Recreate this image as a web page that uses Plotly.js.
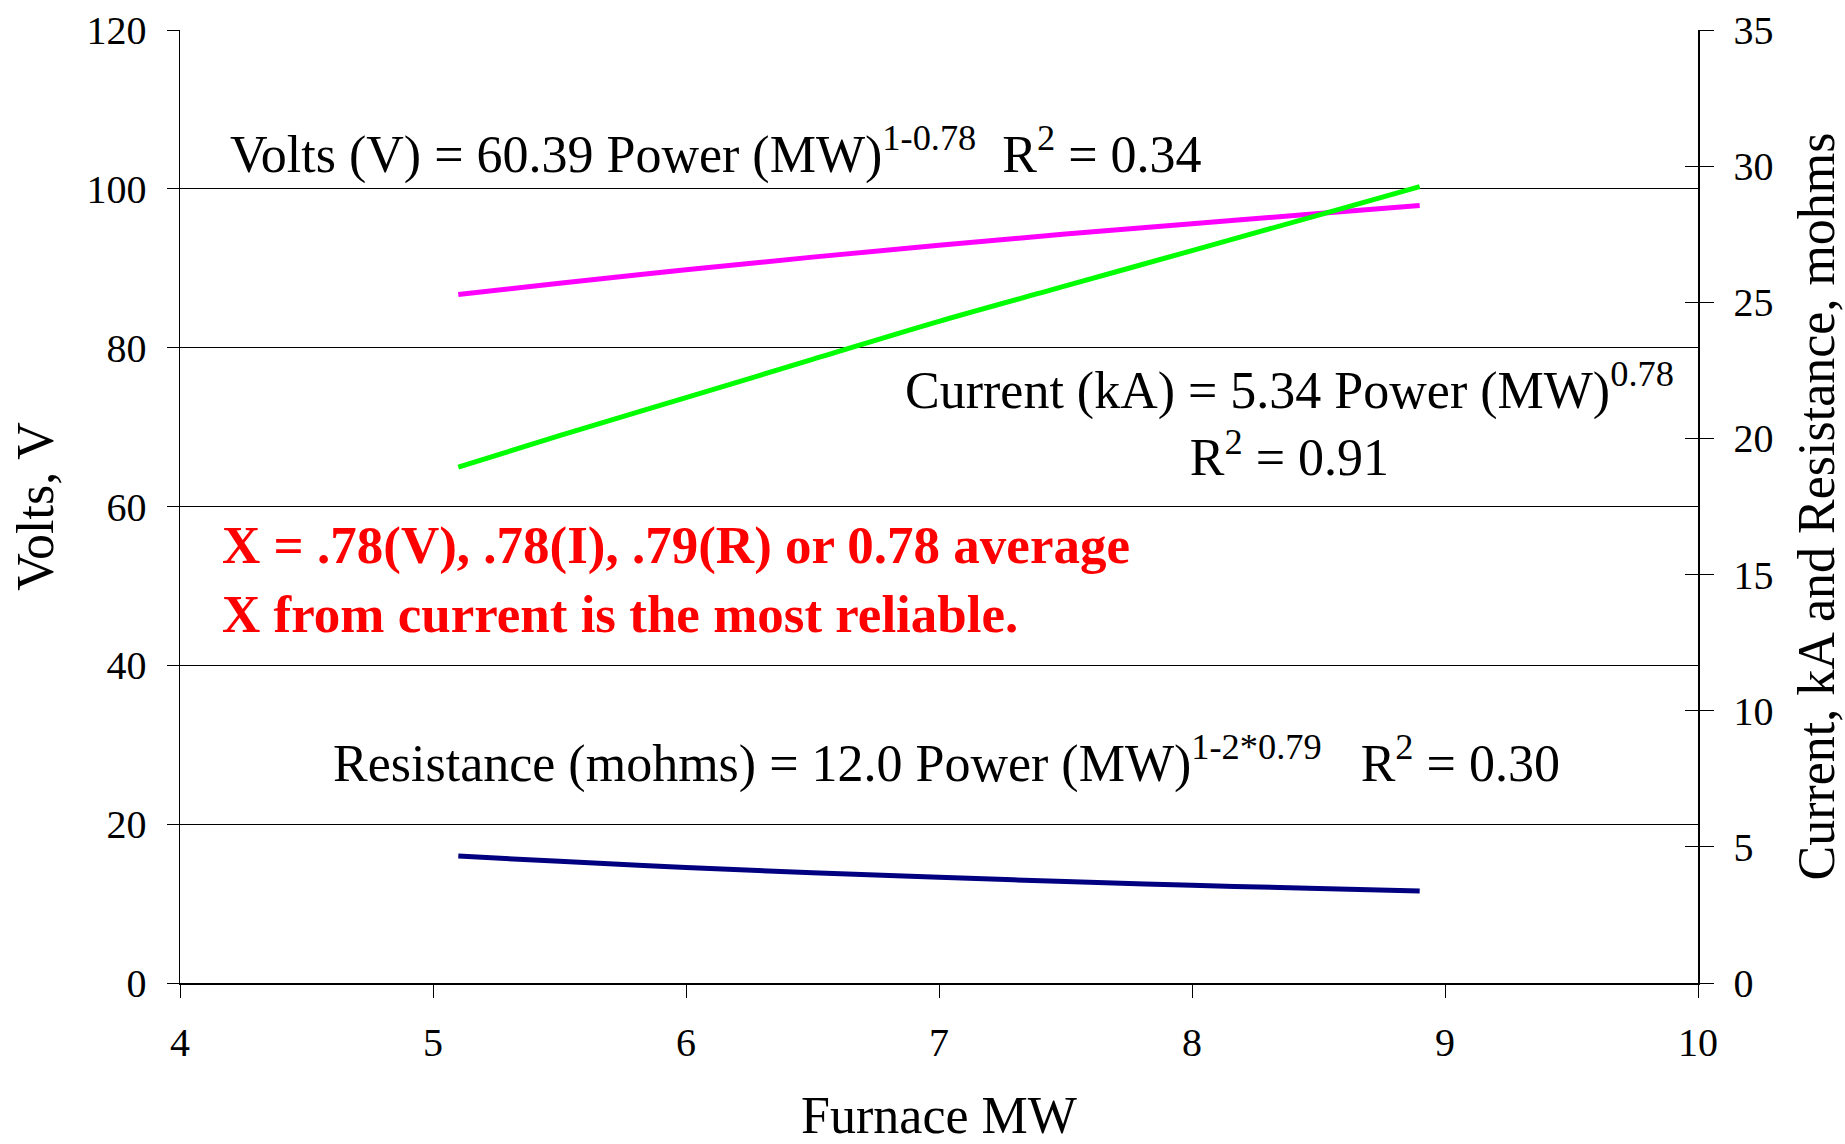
<!DOCTYPE html>
<html>
<head>
<meta charset="utf-8">
<script src="https://cdn.plot.ly/plotly-3.0.1.min.js"></script>
<style>
  html, body { margin: 0; padding: 0; background: #ffffff; }
  #chart { width: 1845px; height: 1144px; }
</style>
</head>
<body>
<div id="chart"></div>
<script>
// Furnace power, MW (x)
const furnaceMW = [5.1, 5.5, 6.0, 6.5, 7.0, 7.5, 8.0, 8.5, 8.9];
// Volts fit line (left axis)
const voltsV = [86.7, 88.1, 89.8, 91.4, 92.9, 94.3, 95.6, 96.9, 97.9];
// Current fit line, kA (right axis)
const currentKA = [18.95, 20.1, 21.5, 22.9, 24.3, 25.6, 26.9, 28.2, 29.25];
// Resistance fit line, mohms (right axis)
const resistanceMohms = [4.66, 4.47, 4.24, 4.05, 3.88, 3.73, 3.59, 3.47, 3.38];

const xTicks = [4, 5, 6, 7, 8, 9, 10];
const yLeftTicks = [0, 20, 40, 60, 80, 100, 120];
const yRightTicks = [0, 5, 10, 15, 20, 25, 30, 35];

const FONT = '"Liberation Serif", "Times New Roman", Times, serif';

const traces = [
  { x: furnaceMW, y: voltsV, type: 'scatter', mode: 'lines', name: 'Volts',
    line: { color: '#FF00FF', width: 5, shape: 'spline' }, yaxis: 'y' },
  { x: furnaceMW, y: currentKA, type: 'scatter', mode: 'lines', name: 'Current',
    line: { color: '#00FF00', width: 5, shape: 'spline' }, yaxis: 'y2' },
  { x: furnaceMW, y: resistanceMohms, type: 'scatter', mode: 'lines', name: 'Resistance',
    line: { color: '#000080', width: 5, shape: 'spline' }, yaxis: 'y2' },
  { x: [], y: [], type: 'scatter', mode: 'lines', yaxis: 'y3', showlegend: false, hoverinfo: 'skip' }
];

const layout = {
  width: 1845, height: 1144,
  paper_bgcolor: '#ffffff', plot_bgcolor: '#ffffff',
  showlegend: false,
  font: { family: FONT, color: '#000000', size: 40 },
  margin: { l: 180, r: 147, t: 30, b: 161, pad: 0 },
  xaxis: {
    range: [4, 10], tickvals: xTicks, ticktext: xTicks.map(String),
    ticks: 'outside', ticklen: 13, tickwidth: 1, tickcolor: '#000000',
    showline: true, linecolor: '#000000', linewidth: 1.5,
    showgrid: false, zeroline: false,
    tickfont: { family: FONT, size: 40, color: '#000000' },
    ticklabelstandoff: 10,
    title: { text: 'Furnace MW', font: { family: FONT, size: 52, color: '#000000' }, standoff: 64 },
    automargin: false
  },
  yaxis: {
    range: [0, 120], tickvals: yLeftTicks, ticktext: yLeftTicks.map(String),
    ticks: 'outside', ticklen: 12, tickwidth: 1, tickcolor: '#000000',
    showline: true, linecolor: '#000000', linewidth: 1.5,
    showgrid: true, gridcolor: '#000000', gridwidth: 1, zeroline: false,
    tickfont: { family: FONT, size: 40, color: '#000000' },
    ticklabelstandoff: 12,
    title: { text: 'Volts, V', font: { family: FONT, size: 52, color: '#000000' }, standoff: 16 },
    automargin: false
  },
  yaxis2: {
    overlaying: 'y', side: 'right', anchor: 'x',
    range: [0, 35], tickvals: yRightTicks, ticktext: yRightTicks.map(String),
    ticks: 'outside', ticklen: 14, tickwidth: 1, tickcolor: '#000000',
    showline: true, linecolor: '#000000', linewidth: 1.5,
    showgrid: false, zeroline: false,
    tickfont: { family: FONT, size: 40, color: '#000000' },
    ticklabelstandoff: 12,
    title: { text: 'Current, kA and Resistance, mohms', font: { family: FONT, size: 52, color: '#000000' }, standoff: 26 },
    automargin: false
  },
  yaxis3: {
    overlaying: 'y', side: 'right', anchor: 'x',
    range: [0, 35], tickvals: yRightTicks.slice(1),
    ticks: 'inside', ticklen: 13, tickwidth: 1, tickcolor: '#000000',
    showticklabels: false, showline: false, showgrid: false, zeroline: false
  },
  annotations: [
    { xref: 'paper', yref: 'paper', x: 0.0313, y: 0.873, xanchor: 'left', yanchor: 'middle',
      text: 'Volts (V) = 60.39 Power (MW)<sup>1-0.78</sup>&nbsp; R<sup>2</sup> = 0.34',
      showarrow: false, font: { family: FONT, size: 52, color: '#000000' } },
    { xref: 'paper', yref: 'paper', x: 0.731, y: 0.591, xanchor: 'center', yanchor: 'middle', align: 'center',
      text: 'Current (kA) = 5.34 Power (MW)<sup>0.78</sup><br>R<sup>2</sup> = 0.91',
      showarrow: false, font: { family: FONT, size: 52, color: '#000000' } },
    { xref: 'paper', yref: 'paper', x: 0.0995, y: 0.234, xanchor: 'left', yanchor: 'middle',
      text: 'Resistance (mohms) = 12.0 Power (MW)<sup>1-2*0.79</sup>&nbsp;&nbsp; R<sup>2</sup> = 0.30',
      showarrow: false, font: { family: FONT, size: 52, color: '#000000' } },
    { xref: 'paper', yref: 'paper', x: 0.0265, y: 0.4236, xanchor: 'left', yanchor: 'middle', align: 'left',
      text: '<b>X = .78(V), .78(I), .79(R) or 0.78 average</b><br><b>X from current is the most reliable.</b>',
      showarrow: false, font: { family: FONT, size: 53, color: '#FF0000' } }
  ]
};

Plotly.newPlot('chart', traces, layout, { staticPlot: true, displayModeBar: false });
</script>
</body>
</html>
